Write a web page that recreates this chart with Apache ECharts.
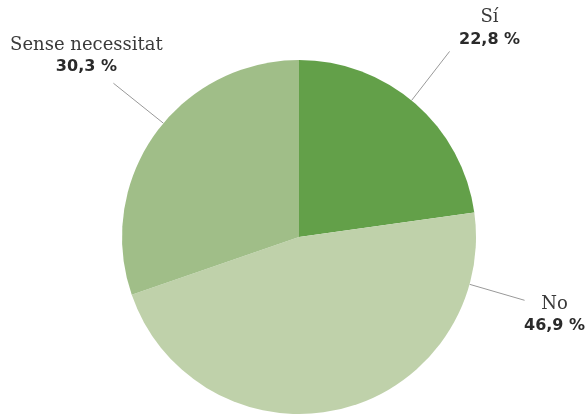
<!DOCTYPE html>
<html>
<head>
<meta charset="utf-8">
<script src="https://cdn.jsdelivr.net/npm/echarts@6/dist/echarts.min.js"></script>
<style>
    html, body { margin: 0; padding: 0; background: #fff; }
    #chrt_pie { width: 585px; height: 414px; }
</style>
</head>
<body>
<div id="chrt_pie"></div>
<script>
const names = [ 'Sí', 'No', 'Sense necessitat' ];
const values = [ 22.8, 46.9, 30.3 ];

const colors = [ '#63a049', '#bfd1aa', '#a0be88' ];
// label placement: anchor angle on the rim (null = slice middle), line end offset, text offset
const labelPlace = [
    { angle: 39.5, line: [ 38, -49 ], text: [ 40, -1 ], align: 'center', vAlign: 'bottom' },
    { angle: 105.5, line: [ 55, 16 ], text: [ 30, -7 ], align: 'center', vAlign: 'top' },
    { angle: 310, line: [ -50, -40 ], text: [ -27, -5 ], align: 'center', vAlign: 'bottom' }
]

const cx = 299, cy = 237, R = 177

const chart = echarts.init(document.getElementById('chrt_pie'))

const total = values.reduce((a, b) => a + b, 0)
function midAngle(i) {
    let before = 0
    for (let k = 0; k < i; k++) before += values[k]
    return (before + values[i] / 2) / total * 360
}

chart.setOption({
    animation: false,
    series: [
        {
            type: 'pie', radius: R, center: [ cx, cy ],
            startAngle: 90, clockwise: true,
            avoidLabelOverlap: false,
            data: names.map((n, i) => ({ name: n, value: values[i], itemStyle: { color: colors[i] } })),
            itemStyle: { borderWidth: 0 },
            emphasis: { disabled: true },
            label: {
                show: true, position: 'outside',
                formatter: p => '{n|' + p.name + '}\n{p|' + p.value.toFixed(1).replace('.', ',') + ' %}',
                rich: {
                    n: { fontFamily: 'DejaVu Serif', fontSize: 18, color: '#3a3a3a', lineHeight: 22, align: 'center' },
                    p: { fontFamily: 'DejaVu Sans', fontWeight: 'bold', fontSize: 16, color: '#2a2a2a', lineHeight: 22, align: 'center' }
                }
            },
            labelLine: { show: true, length: 20, length2: 0, lineStyle: { color: '#999', width: 1 } },
            labelLayout: params => {
                const i = params.dataIndex
                const lp = labelPlace[i]
                const a = (lp.angle == null ? midAngle(i) : lp.angle) * Math.PI / 180
                const sx = cx + R * Math.sin(a), sy = cy - R * Math.cos(a)
                const ex = sx + lp.line[0], ey = sy + lp.line[1]
                return {
                    x: ex + lp.text[0], y: ey + lp.text[1],
                    align: lp.align, verticalAlign: lp.vAlign,
                    labelLinePoints: [ [ sx, sy ], [ ex, ey ], [ ex, ey ] ]
                }
            }
        }
    ]
})
</script>
</body>
</html>
